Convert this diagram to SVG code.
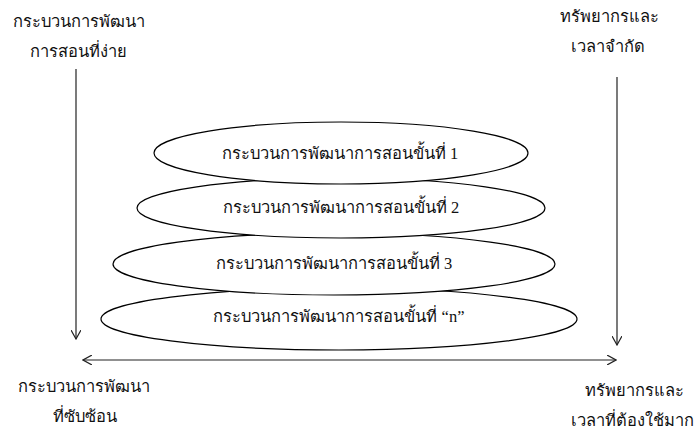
<svg xmlns="http://www.w3.org/2000/svg" width="696" height="432" viewBox="0 0 696 432">
  <style>
    .lbl { font-family: "Liberation Serif", "DejaVu Serif", serif; font-size: 16.5px; fill: #111; text-anchor: middle; }
    .stage ellipse { fill: #fff; stroke: #000; stroke-width: 1.2; }
    .conn line { stroke: #222; stroke-width: 1.2; fill: none; }
  </style>
  <defs>
    <marker id="arrow" viewBox="0 0 10 10" refX="9" refY="5" markerWidth="10" markerHeight="10" markerUnits="userSpaceOnUse" orient="auto-start-reverse">
      <path d="M0,0 L9,5 L0,10" fill="none" stroke="#222" stroke-width="1.2"/>
    </marker>
  </defs>

  <!-- corner labels -->
  <g id="simple-process">
    <text class="lbl" x="79" y="27">กระบวนการพัฒนา</text>
    <text class="lbl" x="78" y="57">การสอนที่ง่าย</text>
  </g>
  <g id="limited-resources">
    <text class="lbl" x="609" y="22">ทรัพยากรและ</text>
    <text class="lbl" x="608" y="52">เวลาจำกัด</text>
  </g>
  <g id="complex-process">
    <text class="lbl" x="84" y="392">กระบวนการพัฒนา</text>
    <text class="lbl" x="85" y="422">ที่ซับซ้อน</text>
  </g>
  <g id="large-resources">
    <text class="lbl" x="634" y="396">ทรัพยากรและ</text>
    <text class="lbl" x="632" y="426">เวลาที่ต้องใช้มาก</text>
  </g>

  <!-- stacked stages, bottom drawn first so upper ones overlap -->
  <g id="stage-n" class="stage">
    <ellipse cx="339" cy="319" rx="238" ry="31"/>
    <text class="lbl" x="339" y="322">กระบวนการพัฒนาการสอนขั้นที่ “n”</text>
  </g>
  <g id="stage-3" class="stage">
    <ellipse cx="334" cy="264" rx="221" ry="31"/>
    <text class="lbl" x="334" y="269">กระบวนการพัฒนาการสอนขั้นที่ 3</text>
  </g>
  <g id="stage-2" class="stage">
    <ellipse cx="341" cy="208" rx="204" ry="30"/>
    <text class="lbl" x="341" y="213">กระบวนการพัฒนาการสอนขั้นที่ 2</text>
  </g>
  <g id="stage-1" class="stage">
    <ellipse cx="341" cy="153" rx="187" ry="31"/>
    <text class="lbl" x="340" y="159">กระบวนการพัฒนาการสอนขั้นที่ 1</text>
  </g>

  <!-- connectors -->
  <g id="connectors" class="conn">
    <line x1="76" y1="69" x2="76" y2="339" marker-end="url(#arrow)"/>
    <line x1="617" y1="77" x2="617" y2="345" marker-end="url(#arrow)"/>
    <line x1="83" y1="360" x2="616" y2="360" marker-start="url(#arrow)" marker-end="url(#arrow)"/>
  </g>
</svg>
